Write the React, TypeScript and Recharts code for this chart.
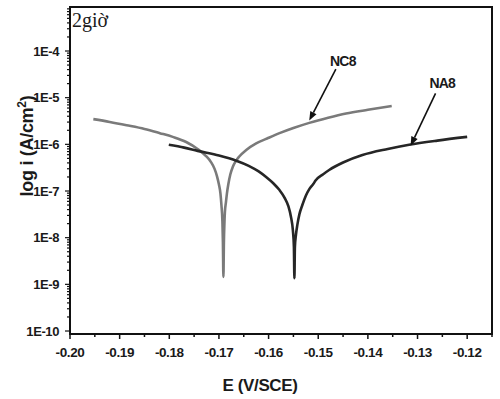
import { LineChart, Line, XAxis, YAxis, ReferenceLine, ReferenceDot, ReferenceArea } from 'recharts'

// potentiodynamic polarisation curves, E in V/SCE, log10 of i in A/cm2
const NC8_E = [
  -0.1953, -0.192, -0.1886, -0.185, -0.1819, -0.1793, -0.1766, -0.1743, -0.1726, -0.1716, -0.1709,
  -0.1704, -0.17, -0.1697, -0.1695, -0.1693, -0.1692, -0.1691, -0.169, -0.1689, -0.1688, -0.1686,
  -0.1684, -0.1681, -0.1677, -0.1672, -0.1666, -0.1659, -0.1645, -0.1625, -0.16, -0.1578, -0.155,
  -0.1518, -0.148, -0.1444, -0.14, -0.1352,
]
const NC8_LOG = [
  -5.46, -5.52, -5.59, -5.67, -5.76, -5.84, -5.95, -6.1, -6.25, -6.38, -6.52,
  -6.68, -6.86, -7.05, -7.3, -7.65, -8.1, -8.84, -8.1, -7.7, -7.45, -7.25,
  -7.06, -6.85, -6.64, -6.48, -6.36, -6.26, -6.12, -5.98, -5.86, -5.76, -5.65,
  -5.54, -5.43, -5.34, -5.26, -5.18,
]
const NA8_E = [
  -0.1801, -0.177, -0.1743, -0.17, -0.1665, -0.164, -0.162, -0.1605, -0.159, -0.1578, -0.1568,
  -0.156, -0.1555, -0.1551, -0.1549, -0.1548, -0.1547, -0.1545, -0.1542, -0.1538, -0.1532, -0.1525,
  -0.1518, -0.151, -0.1505, -0.149, -0.1478, -0.145, -0.1411, -0.136, -0.1317, -0.126, -0.12,
]
const NA8_LOG = [
  -6.01, -6.07, -6.14, -6.24, -6.35, -6.46, -6.58, -6.7, -6.84, -6.98, -7.14,
  -7.33, -7.55, -7.85, -8.2, -8.87, -8.2, -7.95, -7.72, -7.5, -7.3, -7.1,
  -6.96, -6.85, -6.77, -6.64, -6.55, -6.39, -6.23, -6.1, -6.01, -5.92, -5.84,
]

const X_MAJOR = [-0.2, -0.19, -0.18, -0.17, -0.16, -0.15, -0.14, -0.13, -0.12]
const X_MINOR = [-0.195, -0.185, -0.175, -0.165, -0.155, -0.145, -0.135, -0.125, -0.115]
const Y_MAJOR = [-10, -9, -8, -7, -6, -5, -4]
const X_DOMAIN = [-0.2, -0.115]
const Y_DOMAIN = [-10.064, -3.057]

// label text position, arrow tail, arrow head (data coords)
const NOTES = [
  { name: 'NC8', at: [-0.14504, -4.21], from: [-0.14645, -4.39], to: [-0.15181, -5.49] },
  { name: 'NA8', at: [-0.12503, -4.69], from: [-0.12637, -4.906], to: [-0.13139, -6.03] },
]

const nc8 = NC8_E.map((x, i) => ({ x, y: NC8_LOG[i] }))
const na8 = NA8_E.map((x, i) => ({ x, y: NA8_LOG[i] }))

const xTicks = [...X_MAJOR, ...X_MINOR].sort((a, b) => a - b)
const yMinor: number[] = []
Y_MAJOR.forEach(d => {
  for (let k = 2; k <= 9; k++) yMinor.push(d + Math.log10(k))
})
const yTicks = [...Y_MAJOR, ...yMinor].filter(v => v <= Y_DOMAIN[1]).sort((a, b) => a - b)

const FONT = '"Liberation Sans", Arial, sans-serif'

const XTick = (p: any) => {
  const v = p.payload.value
  const major = X_MAJOR.some(m => Math.abs(m - v) < 1e-6)
  return (
    <g>
      <line x1={p.x} x2={p.x} y1={p.y} y2={p.y + (major ? 5 : 3)} stroke="#111" strokeWidth={1.5} />
      {major && (
        <text x={p.x} y={p.y + 23} textAnchor="middle" fontFamily={FONT} fontWeight="bold" fontSize={13.5} fill="#1a1a1a" letterSpacing={-0.4}>
          {v.toFixed(2)}
        </text>
      )}
    </g>
  )
}

const YTick = (p: any) => {
  const v = p.payload.value
  const major = Y_MAJOR.some(m => Math.abs(m - v) < 1e-6)
  return (
    <g>
      <line x1={p.x} x2={p.x - (major ? 5 : 3)} y1={p.y} y2={p.y} stroke="#111" strokeWidth={1.2} />
      {major && (
        <text x={p.x - 11} y={p.y} dy="0.36em" textAnchor="end" fontFamily={FONT} fontWeight="bold" fontSize={13} fill="#1a1a1a" letterSpacing={-0.4}>
          {`1E${v}`}
        </text>
      )}
    </g>
  )
}

const Arrow = (p: any) => {
  const { x1, y1, x2, y2 } = p
  const a = Math.atan2(y2 - y1, x2 - x1)
  const L = 9, W = 3.5
  const bx = x2 - L * Math.cos(a), by = y2 - L * Math.sin(a)
  const pts = [
    [x2, y2],
    [bx + W * Math.sin(a), by - W * Math.cos(a)],
    [bx - W * Math.sin(a), by + W * Math.cos(a)],
  ].map(q => q.join(',')).join(' ')
  return (
    <g>
      <line x1={x1} y1={y1} x2={bx} y2={by} stroke="#111" strokeWidth={1.6} />
      <polygon points={pts} fill="#111" />
    </g>
  )
}

export default function App() {
  return (
    <div style={{ position: 'absolute', left: 0, top: 0, width: 500, height: 399, background: '#fff' }}>
      <LineChart width={500} height={399} margin={{ top: 7, right: 8, bottom: 0, left: 0 }}>
        <XAxis
          type="number" dataKey="x" domain={X_DOMAIN} allowDataOverflow ticks={xTicks} interval={0}
          height={65} tickSize={0} tickMargin={0} tickLine={false} tick={<XTick />}
          axisLine={{ stroke: '#111', strokeWidth: 2 }}
          label={{
            content: () => (
              <text x={260} y={391} textAnchor="middle" fontFamily={FONT} fontWeight="bold" fontSize={17} fill="#1a1a1a" letterSpacing={-0.4}>
                E (V/SCE)
              </text>
            ),
          }}
        />
        <YAxis
          type="number" domain={Y_DOMAIN} allowDataOverflow ticks={yTicks} interval={0}
          width={70} tickSize={0} tickMargin={0} tickLine={false} tick={<YTick />}
          axisLine={{ stroke: '#111', strokeWidth: 2 }}
          label={{
            content: () => (
              <text transform="translate(33,146) rotate(-90)" textAnchor="middle" fontFamily={FONT} fontWeight="bold" fontSize={18} fill="#1a1a1a" letterSpacing={-0.3}>
                log i (A/cm<tspan dy={-7} fontSize={12}>2</tspan><tspan dy={7}>)</tspan>
              </text>
            ),
          }}
        />
        <ReferenceArea x1={X_DOMAIN[0]} x2={X_DOMAIN[1]} y1={Y_DOMAIN[0]} y2={Y_DOMAIN[1]} fill="none" stroke="#111" strokeWidth={2} fillOpacity={0} />
        <Line data={nc8} dataKey="y" type="monotone" stroke="#7a7a7a" strokeWidth={2.6} dot={false} isAnimationActive={false} />
        <Line data={na8} dataKey="y" type="monotone" stroke="#262626" strokeWidth={2.6} dot={false} isAnimationActive={false} />
        {NOTES.map(n => (
          <ReferenceLine key={n.name + 'a'} segment={[{ x: n.from[0], y: n.from[1] }, { x: n.to[0], y: n.to[1] }]} shape={Arrow} />
        ))}
        {NOTES.map(n => (
          <ReferenceDot
            key={n.name} x={n.at[0]} y={n.at[1]} r={0}
            shape={(p: any) => (
              <text x={p.cx} y={p.cy} dy="0.36em" textAnchor="middle" fontFamily={FONT} fontWeight="bold" fontSize={14} fill="#1a1a1a" letterSpacing={-0.8}>
                {n.name}
              </text>
            )}
          />
        ))}
      </LineChart>
      <div style={{ position: 'absolute', left: 72, top: 8, fontFamily: '"Liberation Serif", serif', fontSize: 20, lineHeight: '24px', color: '#1a1a1a' }}>
        2giờ
      </div>
    </div>
  )
}
